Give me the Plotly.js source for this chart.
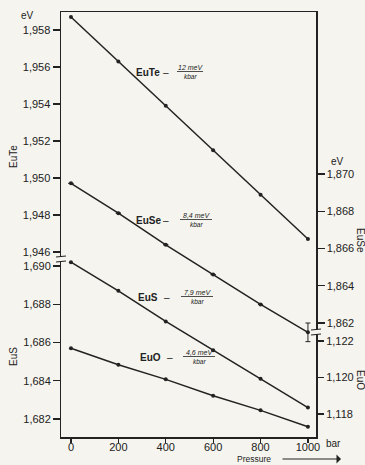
<!DOCTYPE html>
<html>
<head>
<meta charset="utf-8">
<script src="https://cdn.plot.ly/plotly-3.0.1.min.js"></script>
<style>html,body{margin:0;padding:0;background:#f5f4ee;}</style>
</head>
<body>
<div id="chart" style="width:365px;height:465px;"></div>
<script>
// ---- data ----
const pressure = [0, 200, 400, 600, 800, 1000];
const euTe = [1.9587, 1.9563, 1.9539, 1.9515, 1.9491, 1.9467];
const euSe = [1.8695, 1.8679, 1.8662, 1.8646, 1.8630, 1.8615];
const euSeErr = [0, 0, 0, 0, 0, 0.0005];
const euS = [1.6902, 1.6887, 1.6871, 1.6856, 1.6841, 1.6826];
const euO = [1.1216, 1.1207, 1.1199, 1.1190, 1.1182, 1.1173];

const xTickVals = [0, 200, 400, 600, 800, 1000];
const xTickText = ['0', '200', '400', '600', '800', '1000'];
const teTickVals = [1.946, 1.948, 1.950, 1.952, 1.954, 1.956, 1.958];
const sTickVals = [1.682, 1.684, 1.686, 1.688, 1.690];
const seTickVals = [1.862, 1.864, 1.866, 1.868, 1.870];
const oTickVals = [1.118, 1.120, 1.122];
const commaLabel = v => v.toFixed(3).replace('.', ',');

const slopeLabels = [
  {name: 'EuTe', num: '12 meV', den: 'kbar'},
  {name: 'EuSe', num: '8,4 meV', den: 'kbar'},
  {name: 'EuS', num: '7,9 meV', den: 'kbar'},
  {name: 'EuO', num: '4,6 meV', den: 'kbar'}
];

// ---- geometry helpers ----
const L = 61, R = 316, T = 12, B = 437;
const pxX = x => (x - L) / (R - L);
const pxY = y => (B - y) / (B - T);

const ink = '#222222';
const bg = '#f5f4ee';
const font = {family: 'Liberation Sans, Arial, sans-serif', size: 11, color: ink};
const f = s => Object.assign({}, font, {size: s});

function trace(y, axis, extra) {
  return Object.assign({
    x: pressure, y: y, yaxis: axis, type: 'scatter', mode: 'lines+markers',
    line: {color: ink, width: 1.5},
    marker: {color: ink, size: 4},
    showlegend: false, hoverinfo: 'skip', cliponaxis: false
  }, extra || {});
}

const data = [
  trace(euTe, 'y'),
  trace(euSe, 'y2', {error_y: {type: 'data', array: euSeErr, visible: true, color: ink, thickness: 1, width: 2.5}}),
  trace(euS, 'y3'),
  trace(euO, 'y4')
];

const yBase = {
  ticks: 'outside', ticklen: 7, tickwidth: 1.2, tickcolor: ink,
  showgrid: false, zeroline: false, linecolor: ink, linewidth: 1.5,
  tickfont: font, anchor: 'x', fixedrange: true
};

const layout = {
  width: 365, height: 465,
  margin: {l: L, r: 365 - R, t: T, b: 465 - B, pad: 0},
  paper_bgcolor: bg, plot_bgcolor: bg,
  font: font,
  xaxis: {
    range: [-42, 1034], tickvals: xTickVals, ticktext: xTickText,
    ticks: 'outside', ticklen: 4, tickwidth: 1.2, tickcolor: ink,
    ticklabelstandoff: -5,
    showline: true, mirror: true, linecolor: ink, linewidth: 1.5,
    showgrid: false, zeroline: false, tickfont: font
  },
  yaxis: Object.assign({}, yBase, {
    side: 'left', range: [1.936, 1.958973], showline: true,
    tickvals: teTickVals, ticktext: teTickVals.map(commaLabel)
  }),
  yaxis3: Object.assign({}, yBase, {
    side: 'left', overlaying: 'y', range: [1.68106, 1.70328], showline: false,
    tickvals: sTickVals, ticktext: sTickVals.map(commaLabel)
  }),
  yaxis2: Object.assign({}, yBase, {
    side: 'right', overlaying: 'y', range: [1.85588, 1.87870], showline: true,
    tickvals: seTickVals, ticktext: seTickVals.map(commaLabel)
  }),
  yaxis4: Object.assign({}, yBase, {
    side: 'right', overlaying: 'y', range: [1.11674, 1.14003], showline: false,
    tickvals: oTickVals, ticktext: oTickVals.map(commaLabel)
  }),
  shapes: [],
  annotations: []
};

function ann(text, x, y, opts) {
  layout.annotations.push(Object.assign({
    text: text, xref: 'paper', yref: 'paper', x: pxX(x), y: pxY(y),
    xanchor: 'center', yanchor: 'middle', showarrow: false,
    font: font
  }, opts || {}));
}
function seg(x0, y0, x1, y1, w) {
  layout.shapes.push({type: 'line', xref: 'paper', yref: 'paper', layer: 'above',
    x0: pxX(x0), y0: pxY(y0), x1: pxX(x1), y1: pxY(y1),
    line: {color: ink, width: w || 1}});
}
function gap(x0, y0, x1, y1) {
  layout.shapes.push({type: 'rect', xref: 'paper', yref: 'paper', layer: 'above',
    x0: pxX(x0), y0: pxY(y0), x1: pxX(x1), y1: pxY(y1),
    fillcolor: bg, line: {width: 0}});
}

// axis breaks
gap(58, 257, 65, 261.5); seg(56, 257, 66, 256, 1.2); seg(56, 262, 66, 261, 1.2);
gap(313, 329.5, 320, 334.5); seg(311, 330, 321, 329, 1.2); seg(311, 335, 321, 334, 1.2);

// axis labels
ann('eV', 27, 15, {font: f(10)});
ann('EuTe', 13, 157, {textangle: -90, font: f(10)});
ann('EuS', 13, 357, {textangle: -90, font: f(10)});
ann('eV', 337, 161, {font: f(10)});
ann('EuSe', 361, 240, {textangle: 90, font: f(10)});
ann('EuO', 361, 380, {textangle: 90, font: f(10)});
ann('bar', 333, 444, {font: f(10)});
ann('Pressure', 254, 459, {font: f(8.5)});
layout.annotations.push({
  xref: 'paper', yref: 'paper', x: pxX(341), y: pxY(459), ax: pxX(281), ay: pxY(459),
  axref: 'paper', ayref: 'paper', showarrow: true, arrowhead: 1, arrowsize: 1.5,
  arrowwidth: 1, arrowcolor: ink, text: ''
});

// slope labels
const slopePos = [
  {nx: 148, y: 72, dx: 166, fx: 190, fw: 26},
  {nx: 148, y: 220, dx: 166, fx: 196, fw: 32},
  {nx: 148, y: 297, dx: 167, fx: 197, fw: 32},
  {nx: 150, y: 357, dx: 170, fx: 199, fw: 32}
];
slopeLabels.forEach((s, i) => {
  const p = slopePos[i];
  ann('<b>' + s.name + '</b>', p.nx, p.y, {font: f(10)});
  ann('–', p.dx, p.y, {font: f(10)});
  ann('<i>' + s.num + '</i>', p.fx, p.y - 5, {font: f(7)});
  seg(p.fx - p.fw / 2, p.y - 0.5, p.fx + p.fw / 2, p.y - 0.5, 0.8);
  ann('<i>' + s.den + '</i>', p.fx, p.y + 4.5, {font: f(6.5)});
});

Plotly.newPlot('chart', data, layout, {staticPlot: true, displayModeBar: false});
</script>
</body>
</html>
